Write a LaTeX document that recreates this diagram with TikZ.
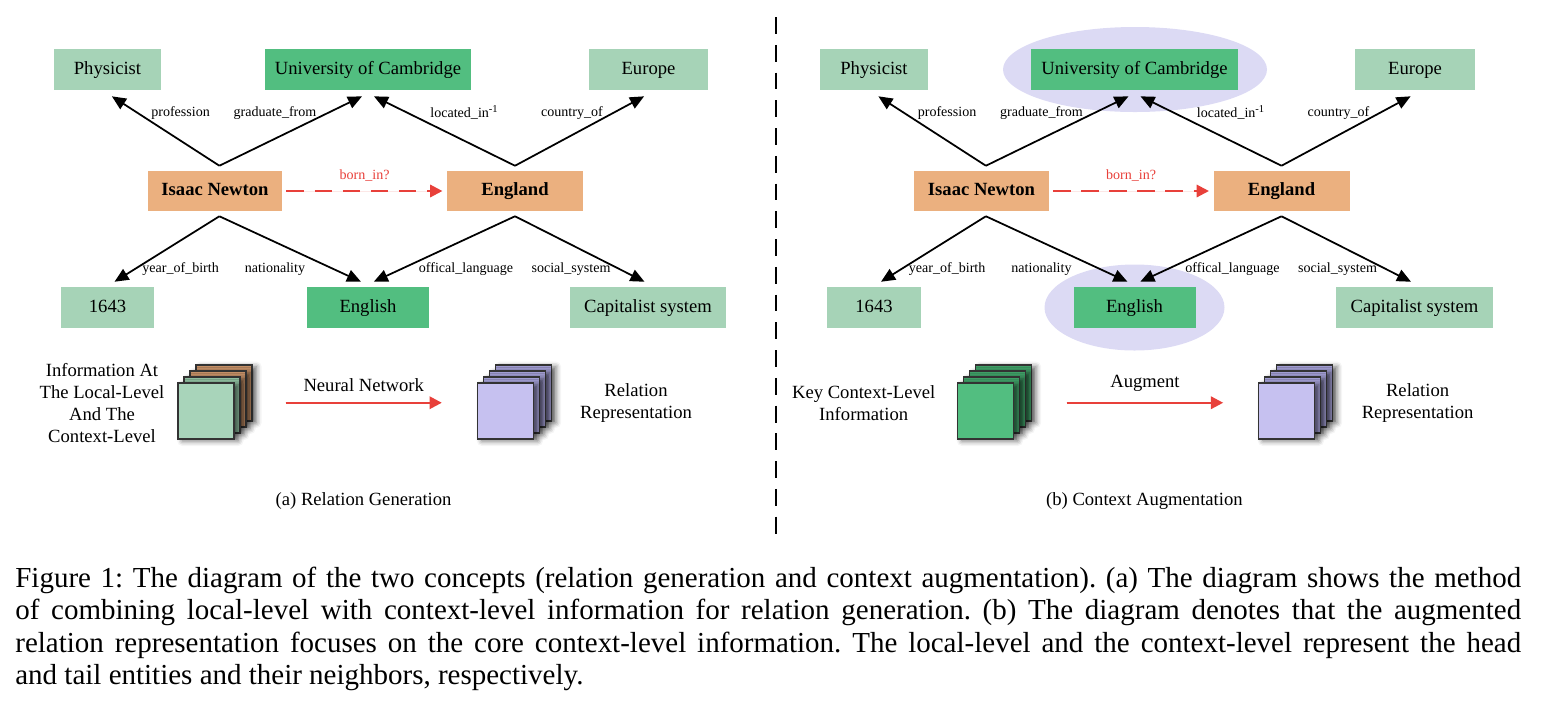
\documentclass[tikz,border=0pt]{standalone}
\usepackage{fontspec}
\setmainfont{Liberation Serif}
\usetikzlibrary{arrows.meta,shadows.blur}

\definecolor{palegreen}{HTML}{A6D3B7}
\definecolor{deepgreen}{HTML}{52BE80}
\definecolor{entorange}{HTML}{EBB07F}
\definecolor{haze}{HTML}{DCDAF4}
\definecolor{linkred}{HTML}{E8403A}
\definecolor{cardpale}{HTML}{A8D4BA}
\definecolor{cardsage}{HTML}{8EBE9F}
\definecolor{cardbrown}{HTML}{C48F66}
\definecolor{cardlilac}{HTML}{C6C1F0}
\definecolor{cardviolet}{HTML}{A19DD2}
\definecolor{cardforest}{HTML}{3F9E66}

\tikzset{
  ent/.style={inner sep=0pt, minimum height=0.82cm, text height=7.4pt, text depth=2.2pt,
    font=\fontsize{10.6}{12.7}\selectfont},
  leaf/.style={ent, fill=palegreen},
  hub/.style={ent, fill=deepgreen},
  head/.style={ent, fill=entorange, minimum height=0.8cm, font=\fontsize{10.6}{12.7}\selectfont\bfseries},
  rel/.style={line width=1pt, -{Triangle[length=8pt,width=7pt]}},
  lab/.style={inner sep=0pt, font=\fontsize{8}{9.6}\selectfont},
  card/.style={draw=black!80, line width=0.6pt, minimum width=1.12cm, minimum height=1.12cm, inner sep=0pt,
    blur shadow={shadow xshift=2.5pt, shadow yshift=-1pt, shadow blur radius=3pt, shadow opacity=60}},
  txt/.style={align=center, font=\fontsize{10.6}{12.7}\selectfont},
  redarrow/.style={draw=linkred, fill=linkred, line width=1.4pt, -{Triangle[length=7pt,width=7pt]}}
}

\begin{document}
\begin{tikzpicture}[x=0.02cm, y=-0.02cm]
  \useasboundingbox (0,0) rectangle (1552,718);

  %split line
  \draw[line width=1.1pt, dash pattern=on 9.6pt off 6.2pt] (776,17) -- (776,540);

  %key context in (b)
  \fill[haze] (1135,69.5) ellipse [x radius=132, y radius=42.5];
  \fill[haze] (1134.5,307.5) ellipse [x radius=90, y radius=43];

  %the same graph in both panels
  \foreach \p/\dx in {a/0, b/766.5}{
    \begin{scope}[shift={(\dx,0)}]
      \node[leaf, minimum width=2.16cm] (\p-phys) at (107.5,69.5) {Physicist};
      \node[hub, minimum width=4.14cm] (\p-uoc) at (368,69.5) {University of Cambridge};
      \node[leaf, minimum width=2.4cm] (\p-eur) at (648.5,69.5) {Europe};
      \node[head, minimum width=2.69cm] (\p-newton) at (215,191) {Isaac Newton};
      \node[head, minimum width=2.72cm] (\p-eng) at (515,191) {England};
      \node[leaf, minimum width=1.88cm] (\p-year) at (107.5,307.5) {1643};
      \node[hub, minimum width=2.44cm] (\p-lang) at (368,307.5) {English};
      \node[leaf, minimum width=3.14cm] (\p-sys) at (648,307.5) {Capitalist system};

      \coordinate (\p-nt) at ([xshift=2.5pt,yshift=2.8pt]\p-newton.north);
      \coordinate (\p-et) at ([yshift=2.8pt]\p-eng.north);
      \coordinate (\p-nb) at ([xshift=2.5pt,yshift=-2.8pt]\p-newton.south);
      \coordinate (\p-eb) at ([yshift=-2.8pt]\p-eng.south);

      \draw[rel] (\p-nt) -- ([xshift=2.5pt,yshift=-3.4pt]\p-phys.south);
      \draw[rel] (\p-nt) -- ([xshift=-3.4pt,yshift=-3.4pt]\p-uoc.south);
      \draw[rel] (\p-et) -- ([xshift=3.4pt,yshift=-3.4pt]\p-uoc.south);
      \draw[rel] (\p-et) -- ([xshift=-2.5pt,yshift=-3.4pt]\p-eur.south);
      \draw[rel] (\p-nb) -- ([xshift=4pt,yshift=2.8pt]\p-year.north);
      \draw[rel] (\p-nb) -- ([xshift=-4pt,yshift=2.8pt]\p-lang.north);
      \draw[rel] (\p-eb) -- ([xshift=3.3pt,yshift=2.8pt]\p-lang.north);
      \draw[rel] (\p-eb) -- ([xshift=-2pt,yshift=2.8pt]\p-sys.north);

      \draw[redarrow, line width=1.3pt, dash pattern=on 10pt off 6pt, shorten <=2.2pt, shorten >=2.4pt]
        (\p-newton) -- (\p-eng) node[midway, above=5pt, lab, text=linkred] (\p-born) {born\_in?};

      %relation names
      \node[lab] (\p-prof) at (180.6,112.7) {profession};
      \node[lab] (\p-grad) at (275,112.7) {graduate\_from};
      \node[lab] (\p-loc) at (464.5,112.7) {located\_in\textsuperscript{-1}};
      \node[lab] (\p-cty) at (572,112.7) {country\_of};
      \node[lab] (\p-yob) at (180.6,269.3) {year\_of\_birth};
      \node[lab] (\p-nat) at (275,269.3) {nationality};
      \node[lab] (\p-off) at (466,269.3) {offical\_language};
      \node[lab] (\p-soc) at (571,269.3) {social\_system};
    \end{scope}
  }

  %(a) bottom
  \node[txt] (a-info) at (102,403) {Information At\\The Local-Level\\And The\\Context-Level};
  \foreach \k/\c in {3/cardbrown, 2/cardbrown, 1/cardsage}
    \node[card, fill=\c] (a-src\k) at ({206+6*\k},{411-6*\k}) {};
  \node[card, fill=cardpale] (a-src) at (206,411) {};
  \foreach \k in {3,2,1}
    \node[card, fill=cardviolet] (a-dst\k) at ({505.5+6*\k},{411-6*\k}) {};
  \node[card, fill=cardlilac] (a-dst) at (505.5,411) {};
  \draw[redarrow] ([xshift=29.1pt,yshift=4.7pt]a-src.east) -- ([xshift=-20pt,yshift=4.7pt]a-dst.west)
    node[midway, above=2.5pt, txt] (a-nn) {Neural Network};
  \node[txt] (a-rep) at (636,403) {Relation\\Representation};
  \node[txt] (a-cap) at (363.6,500.7) {(a) Relation Generation};

  %(b) bottom
  \node[txt] (b-info) at (863.7,403) {Key Context-Level\\Information};
  \foreach \k in {3,2,1}
    \node[card, fill=cardforest] (b-src\k) at ({985.5+6*\k},{411-6*\k}) {};
  \node[card, fill=deepgreen] (b-src) at (985.5,411) {};
  \foreach \k in {3,2,1}
    \node[card, fill=cardviolet] (b-dst\k) at ({1286.5+6*\k},{411-6*\k}) {};
  \node[card, fill=cardlilac] (b-dst) at (1286.5,411) {};
  \draw[redarrow] ([xshift=30pt,yshift=4.7pt]b-src.east) -- ([xshift=-19.8pt,yshift=4.7pt]b-dst.west)
    node[midway, above=2.5pt, txt] (b-aug) {Augment};
  \node[txt] (b-rep) at (1417.6,403) {Relation\\Representation};
  \node[txt] (b-cap) at (1144.4,500.7) {(b) Context Augmentation};

  %figure caption
  \node[anchor=north west, inner sep=0pt, text width=857pt, align=justify,
    font=\fontsize{16.5}{18.3}\selectfont\frenchspacing]
    (caption) at (15,567) {Figure 1: The diagram of the two concepts (relation generation and context augmentation). (a) The diagram shows the method\linebreak
    of combining local-level with context-level information for relation generation. (b) The diagram denotes that the augmented\linebreak
    relation representation focuses on the core context-level information. The local-level and the context-level represent the head\linebreak
    and tail entities and their neighbors, respectively.};
\end{tikzpicture}
\end{document}
